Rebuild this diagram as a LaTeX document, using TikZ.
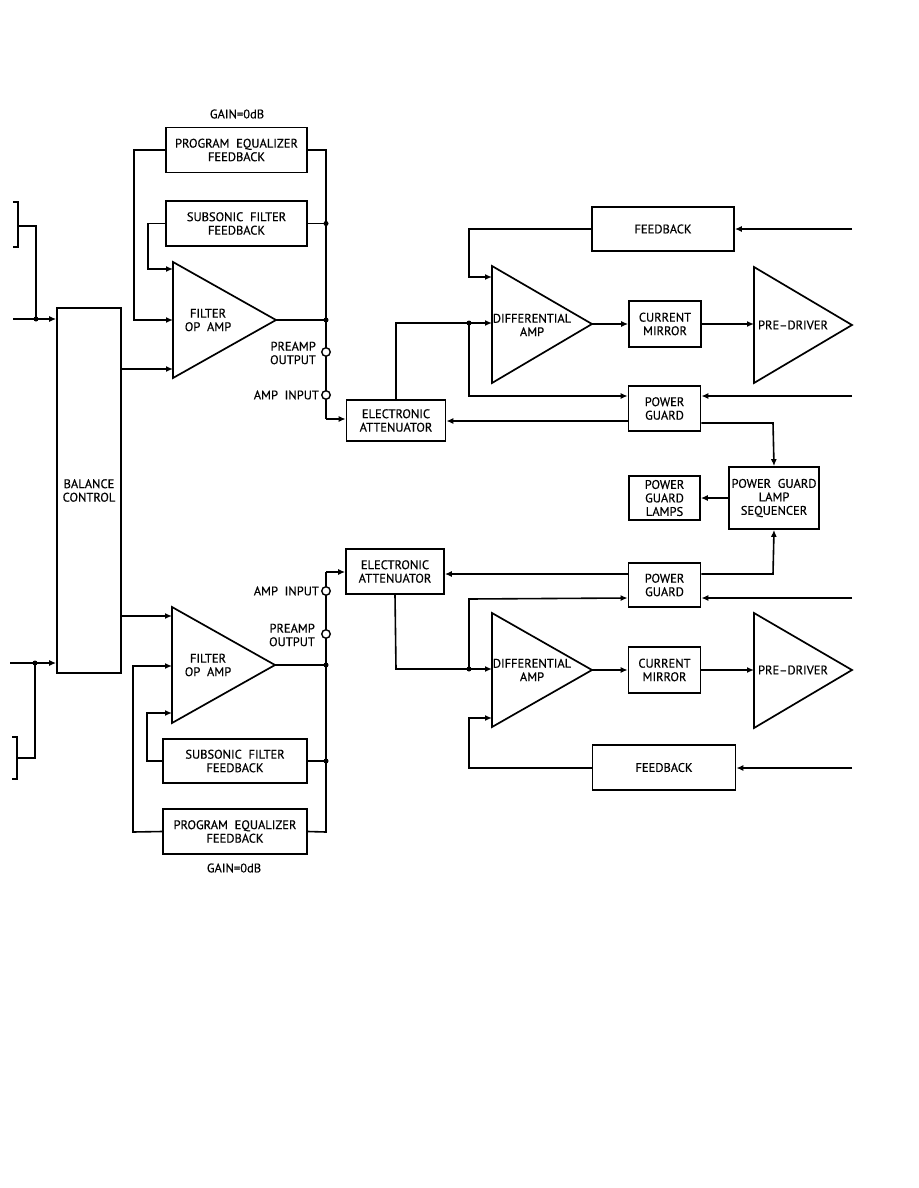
\documentclass[tikz,border=0pt]{standalone}
\usepackage{fontspec}
\setmainfont{PT Sans}[FakeBold=0.5]
\usetikzlibrary{arrows.meta}
\begin{document}
\begin{tikzpicture}[x=1pt,y=-1pt,
  wire/.style={line width=1.6pt},
  arr/.style={wire,-{Latex[length=7pt,width=6pt]}},
  blk/.style={draw,line width=1.7pt,inner sep=0pt,align=center,font=\fontsize{12.5}{13.5}\selectfont},
  tri/.style={draw,line width=1.7pt,line join=miter},
  lbl/.style={inner sep=0pt,align=center,font=\fontsize{12.5}{13.5}\selectfont},
  dot/.style={circle,fill,inner sep=0pt,minimum size=5pt},
  term/.style={circle,draw,fill=white,line width=1.4pt,inner sep=0pt,minimum size=8.5pt}]
\useasboundingbox (0,0) rectangle (918,1188);

% ---------------- blocks ----------------
\node[blk,minimum width=141pt,minimum height=45pt] (peq1) at (236.5,150) {PROGRAM\ \ EQUALIZER\\FEEDBACK};
\node[blk,minimum width=141pt,minimum height=45pt] (sub1) at (236.5,223.5) {SUBSONIC\ \ FILTER\\FEEDBACK};
\node[blk,minimum width=64pt,minimum height=365pt] (bal) at (89,490.5) {BALANCE\\CONTROL};
\node[blk,minimum width=99pt,minimum height=41pt] (att1) at (396,420.5) {ELECTRONIC\\ATTENUATOR};
\node[blk,minimum width=142pt,minimum height=44pt] (fb1) at (663,229) {FEEDBACK};
\node[blk,minimum width=72pt,minimum height=46pt] (cm1) at (665,324) {CURRENT\\MIRROR};
\node[blk,minimum width=72pt,minimum height=45pt] (pg1) at (664.5,408.5) {POWER\\GUARD};
\node[blk,minimum width=90pt,minimum height=62pt] (seq) at (774,498) {POWER\ \ GUARD\\LAMP\\SEQUENCER};
\node[blk,minimum width=71pt,minimum height=44pt] (lamps) at (664.5,498) {POWER\\GUARD\\LAMPS};
\node[blk,minimum width=72pt,minimum height=44pt] (pg2) at (664.5,585) {POWER\\GUARD};
\node[blk,minimum width=98pt,minimum height=45pt] (att2) at (395,571.5) {ELECTRONIC\\ATTENUATOR};
\node[blk,minimum width=72pt,minimum height=46pt] (cm2) at (664.5,670) {CURRENT\\MIRROR};
\node[blk,minimum width=143pt,minimum height=45pt] (fb2) at (664,767.5) {FEEDBACK};
\node[blk,minimum width=144pt,minimum height=44pt] (sub2) at (235,761) {SUBSONIC\ \ FILTER\\FEEDBACK};
\node[blk,minimum width=144pt,minimum height=45pt] (peq2) at (235,831.5) {PROGRAM\ \ EQUALIZER\\FEEDBACK};

\node[lbl] (gain1) at (237,114) {GAIN=0dB};
\node[lbl] (gain2) at (234,868) {GAIN=0dB};

% ---------------- triangles ----------------
\coordinate (f1a) at (173,262); \coordinate (f1b) at (173,378); \coordinate (f1o) at (276,320);
\draw[tri] (f1a) -- (f1o) -- (f1b) -- cycle;
\node[lbl] (f1t) at (208,320) {FILTER\\OP\ \ AMP};
\coordinate (f2a) at (172,607); \coordinate (f2b) at (172,723); \coordinate (f2o) at (275,665);
\draw[tri] (f2a) -- (f2o) -- (f2b) -- cycle;
\node[lbl] (f2t) at (208,665) {FILTER\\OP\ \ AMP};

\coordinate (d1a) at (492,266); \coordinate (d1b) at (492,383); \coordinate (d1o) at (592,324);
\draw[tri] (d1a) -- (d1o) -- (d1b) -- cycle;
\node[lbl] (d1t) at (532,325) {DIFFERENTIAL\\AMP};
\coordinate (d2a) at (492,613); \coordinate (d2b) at (492,727); \coordinate (d2o) at (592,670);
\draw[tri] (d2a) -- (d2o) -- (d2b) -- cycle;
\node[lbl] (d2t) at (532,670) {DIFFERENTIAL\\AMP};

\coordinate (p1a) at (754,267); \coordinate (p1b) at (754,383); \coordinate (p1o) at (852,325);
\draw[tri] (p1a) -- (p1o) -- (p1b) -- cycle;
\node[lbl] (p1t) at (793,325) {PRE–DRIVER};
\coordinate (p2a) at (754,613); \coordinate (p2b) at (754,728); \coordinate (p2o) at (852,670);
\draw[tri] (p2a) -- (p2o) -- (p2b) -- cycle;
\node[lbl] (p2t) at (793,670) {PRE–DRIVER};

% ---------------- coordinates ----------------
\coordinate (in1) at (13,319);   \coordinate (j1) at (36,319);
\coordinate (in2) at (10,663);   \coordinate (j2) at (35,663);
\coordinate (f1i1) at (173,269); \coordinate (f1i2) at (173,320); \coordinate (f1i3) at (173,369);
\coordinate (f2i1) at (172,616); \coordinate (f2i2) at (172,666); \coordinate (f2i3) at (172,713);
\coordinate (bus1top) at (326,150); \coordinate (bus1s) at (326,223.5); \coordinate (bus1o) at (326,320);
\coordinate (bus1bot) at (326,419);
\coordinate (bus2top) at (326,572); \coordinate (bus2o) at (326,665); \coordinate (bus2s) at (326,761);
\coordinate (bus2bot) at (326,832);
\coordinate (d1j) at (469,323); \coordinate (d2j) at (469,669);
\coordinate (r1) at (852,229); \coordinate (r2) at (852,396);
\coordinate (r3) at (852,598); \coordinate (r4) at (852,768);
\coordinate (sq1) at (773,423); \coordinate (sq2) at (773,574);
\coordinate (aq1) at (773,421);

% ---------------- left inputs ----------------
\draw[wire] (13,202) -- (18,202) -- (18,247) -- (13,247);
\draw[wire] (18,226) -- (36,226) -- (j1);
\draw[arr] (in1) -- (bal.west |- in1);
\node[dot] (dj1) at (j1) {};
\draw[wire] (12,737) -- (17,737) -- (17,779) -- (12,779);
\draw[wire] (17,758) -- (35,758) -- (j2);
\draw[arr] (in2) -- (bal.west |- in2);
\node[dot] (dj2) at (j2) {};

\draw[arr] (bal.east |- f1i3) -- (f1i3);
\draw[arr] (bal.east |- f2i1) -- (f2i1);

% ---------------- top preamp ----------------
\draw[arr] (peq1.west) -- (134,150) -- (134,320) -- (f1i2);
\draw[arr] (sub1.west) -- (148,223.5) -- (148,269) -- (f1i1);
\draw[wire] (peq1.east) -- (bus1top) -- (bus1bot);
\draw[wire] (sub1.east) -- (bus1s);
\draw[wire] (f1o) -- (bus1o);
\draw[arr] (bus1bot) -- (att1.west |- bus1bot);
\node[dot] (db1) at (bus1s) {};
\node[dot] (db2) at (bus1o) {};
\node[term] (po1) at (326,352) {};
\node[term] (ai1) at (326,395) {};
\node[lbl,anchor=east,align=right] (po1t) at (316,353) {PREAMP\\OUTPUT};
\node[lbl,anchor=east] (ai1t) at (319,395) {AMP\ \ INPUT};

% ---------------- bottom preamp ----------------
\draw[arr] (peq2.west) -- (133,832) -- (133,666) -- (f2i2);
\draw[arr] (sub2.west) -- (147,761) -- (147,713) -- (f2i3);
\draw[wire] (peq2.east) -- (bus2bot) -- (bus2top);
\draw[wire] (sub2.east) -- (bus2s);
\draw[wire] (f2o) -- (bus2o);
\draw[arr] (bus2top) -- (att2.west |- bus2top);
\node[dot] (db3) at (bus2o) {};
\node[dot] (db4) at (bus2s) {};
\node[term] (ai2) at (326,591) {};
\node[term] (po2) at (326,634) {};
\node[lbl,anchor=east] (ai2t) at (319,591) {AMP\ \ INPUT};
\node[lbl,anchor=east,align=right] (po2t) at (315,635) {PREAMP\\OUTPUT};

% ---------------- top power amp ----------------
\draw[wire] (att1.north) -- (396,323) -- (d1j);
\draw[arr] (d1j) -- (d1j -| d1a);
\draw[arr] (d1j) -- (469,396) -- (pg1.west |- r2);
\draw[arr] (fb1.west) -- (469,229) -- (469,277) -- (492,277);
\node[dot] (dd1) at (d1j) {};
\draw[arr] (r1) -- (fb1.east);
\draw[arr] (r2) -- (pg1.east |- r2);
\draw[arr] (d1o) -- (cm1.west);
\draw[arr] (cm1.east) -- (cm1.east -| p1a);
\draw[arr] (pg1.west |- aq1) -- (att1.east |- aq1);
\draw[arr] (pg1.east |- sq1) -- (sq1) -- (seq.north);
\draw[arr] (seq.west) -- (lamps.east);

% ---------------- bottom power amp ----------------
\draw[arr] (pg2.east |- sq2) -- (sq2) -- (seq.south);
\draw[arr] (pg2.west |- sq2) -- (att2.east |- sq2);
\draw[arr] (r3) -- (pg2.east |- r3);
\draw[wire] (att2.south) -- (396,669) -- (d2j);
\draw[arr] (d2j) -- (d2j -| d2a);
\draw[arr] (d2j) -- (469,599) -- (pg2.west |- r3);
\draw[arr] (fb2.west |- r4) -- (469,768) -- (469,718) -- (492,718);
\node[dot] (dd2) at (d2j) {};
\draw[arr] (r4) -- (fb2.east |- r4);
\draw[arr] (d2o) -- (cm2.west);
\draw[arr] (cm2.east) -- (cm2.east -| p2a);
\end{tikzpicture}
\end{document}
